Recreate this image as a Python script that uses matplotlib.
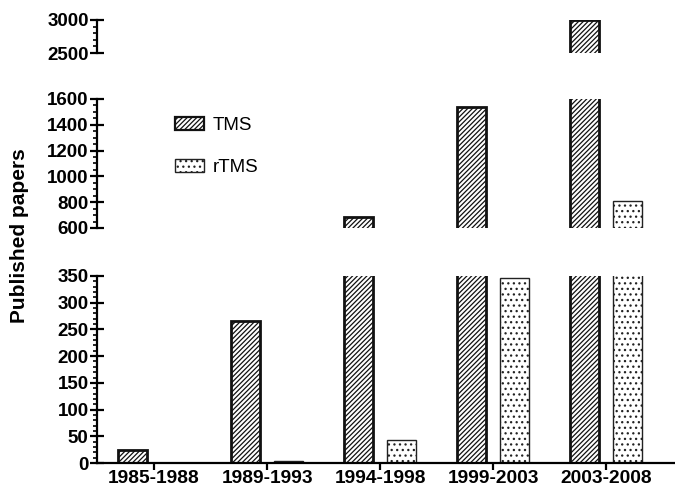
import matplotlib
matplotlib.use("Agg")
import matplotlib.pyplot as plt
import numpy as np
from matplotlib.ticker import MultipleLocator
from matplotlib.patches import Patch

categories = ["1985-1988", "1989-1993", "1994-1998", "1999-2003", "2003-2008"]
tms = [25, 265, 688, 1540, 2995]
rtms = [0, 4, 43, 346, 812]

plt.rcParams['font.family'] = ['Liberation Sans', 'DejaVu Sans']
plt.rcParams['hatch.linewidth'] = 0.9

fig = plt.figure(figsize=(6.75, 4.88), dpi=100)
L = 97 / 675
W = 1 - L
H = 488
ax_top = fig.add_axes([L, 1 - 53 / H, W, 33 / H])
ax_mid = fig.add_axes([L, 1 - 228 / H, W, 129 / H])
ax_bot = fig.add_axes([L, 1 - 463 / H, W, 187 / H])

x = np.arange(len(categories))
bw = 0.26
off = 0.19
TMS_HATCH = '///////'
RTMS_HATCH = '...'

segments = [
    (ax_top, (2500, 3000), 500, 100),
    (ax_mid, (600, 1600), 200, 50),
    (ax_bot, (0, 350), 50, 10),
]
for ax, ylim, major, minor in segments:
    ax.bar(x - off, tms, bw, facecolor='white', edgecolor='#111111',
           linewidth=2.0, hatch=TMS_HATCH)
    ax.bar(x + off, rtms, bw, facecolor='white', edgecolor='#222222',
           linewidth=1.0, hatch=RTMS_HATCH)
    ax.set_ylim(*ylim)
    ax.set_xlim(-0.505, 4.61)
    ax.yaxis.set_major_locator(MultipleLocator(major))
    ax.yaxis.set_minor_locator(MultipleLocator(minor))
    for s in ['top', 'right']:
        ax.spines[s].set_visible(False)
    ax.spines['left'].set_linewidth(1.6)
    ax.tick_params(axis='y', which='major', direction='inout', length=10,
                   width=1.6, labelsize=13.5, pad=1)
    ax.tick_params(axis='y', which='minor', direction='out', length=3,
                   width=1.2)
    for lab in ax.get_yticklabels():
        lab.set_fontweight('bold')
    ax.patch.set_alpha(0)

for ax in (ax_top, ax_mid):
    ax.spines['bottom'].set_visible(False)
    ax.set_xticks([])

ax_bot.spines['bottom'].set_linewidth(1.6)
ax_bot.set_xticks(x)
ax_bot.set_xticklabels(categories, fontweight='bold', fontsize=13.8)
ax_bot.tick_params(axis='x', direction='out', length=5, width=1.6, pad=0)

fig.text(20 / 675, 1 - 236 / H, "Published papers", rotation=90,
         ha='center', va='center', fontsize=15, fontweight='bold')

handles = [Patch(facecolor='white', edgecolor='#111111', linewidth=1.6, hatch=TMS_HATCH),
           Patch(facecolor='white', edgecolor='#222222', linewidth=1.0, hatch=RTMS_HATCH)]
fig.legend(handles, ["TMS", "rTMS"], loc='upper left',
           bbox_to_anchor=(175 / 675, 1 - 117 / H), frameon=False,
           fontsize=13.5, handlelength=1.55, handleheight=0.65,
           handletextpad=0.45, labelspacing=1.35, borderpad=0,
           borderaxespad=0)

fig.savefig("out.png", dpi=100)
